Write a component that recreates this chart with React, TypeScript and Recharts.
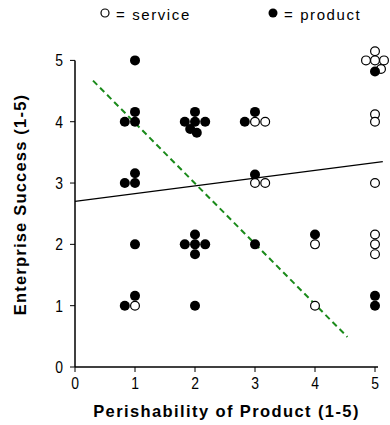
import {
  ScatterChart,
  Scatter,
  XAxis,
  YAxis,
  ReferenceLine,
} from "recharts";

// product (filled) points, jittered around integer ratings
const productPoints = [
  { x: 1, y: 5 },
  { x: 1, y: 4.16 },
  { x: 0.83, y: 4 },
  { x: 1, y: 4 },
  { x: 1, y: 3.16 },
  { x: 0.83, y: 3 },
  { x: 1, y: 3 },
  { x: 1, y: 2 },
  { x: 1, y: 1.16 },
  { x: 0.83, y: 1 },
  { x: 2, y: 4.16 },
  { x: 1.83, y: 4 },
  { x: 2, y: 4 },
  { x: 2.17, y: 4 },
  { x: 1.92, y: 3.88 },
  { x: 2.03, y: 3.82 },
  { x: 2, y: 2.16 },
  { x: 1.83, y: 2 },
  { x: 2, y: 2 },
  { x: 2.17, y: 2 },
  { x: 2, y: 1.84 },
  { x: 2, y: 1 },
  { x: 3, y: 4.16 },
  { x: 2.83, y: 4 },
  { x: 3, y: 3.14 },
  { x: 3, y: 2 },
  { x: 4, y: 2.16 },
  { x: 5, y: 1.16 },
  { x: 5, y: 1 },
];

// service (open) points
const servicePoints = [
  { x: 1, y: 1 },
  { x: 3, y: 4 },
  { x: 3.17, y: 4 },
  { x: 3, y: 3 },
  { x: 3.17, y: 3 },
  { x: 4, y: 2 },
  { x: 4, y: 1 },
  { x: 5, y: 5.15 },
  { x: 4.85, y: 5 },
  { x: 5, y: 5 },
  { x: 5.15, y: 5 },
  { x: 5.1, y: 4.86 },
  { x: 5, y: 4.12 },
  { x: 5, y: 4 },
  { x: 5, y: 3 },
  { x: 5, y: 2.16 },
  { x: 5, y: 2 },
  { x: 5, y: 1.84 },
];

// product drawn over service at the top of the x=5 column
const productTop = [{ x: 5, y: 4.82 }];

const overallFit = [
  { x: 0, y: 2.7 },
  { x: 5.13, y: 3.35 },
];

const productFit = [
  { x: 0.3, y: 4.67 },
  { x: 4.54, y: 0.49 },
];

const xTicks = [0, 1, 2, 3, 4, 5];
const yTicks = [0, 1, 2, 3, 4, 5];

const FONT = "'Liberation Sans', Arial, sans-serif";
const NARROW = 0.82;

const Filled = (props: any) => (
  <circle cx={props.cx} cy={props.cy} r={5} fill="#000" />
);

const Open = (props: any) => (
  <circle cx={props.cx} cy={props.cy} r={4.4} fill="#fff" stroke="#000" strokeWidth={1.2} />
);

const NoDot = () => null;

// narrow-looking tick labels
const XTick = (props: any) => {
  const { x, y, payload } = props;
  return (
    <text transform={`translate(${x},${y + 13}) scale(${NARROW},1)`} textAnchor="middle" fontSize={17} fontFamily={FONT} fill="#000">
      {payload.value}
    </text>
  );
};

const YTick = (props: any) => {
  const { x, y, payload } = props;
  return (
    <text transform={`translate(${x},${y + 6}) scale(${NARROW},1)`} textAnchor="end" fontSize={17} fontFamily={FONT} fill="#000">
      {payload.value}
    </text>
  );
};

const legendText = { fontSize: 15, letterSpacing: 1.6, fontFamily: FONT };

export default function App() {
  return (
    <div style={{ position: "absolute", left: 0, top: 0, width: 390, height: 425, fontFamily: FONT, background: "#fff" }}>
      <svg width={390} height={30} style={{ position: "absolute", left: 0, top: 0 }}>
        <circle cx={105} cy={13} r={4} fill="#fff" stroke="#000" strokeWidth={1.2} />
        <text x={116} y={20} {...legendText}>= service</text>
        <circle cx={273} cy={13} r={4.5} fill="#000" />
        <text x={284} y={20} {...legendText}>= product</text>
      </svg>
      <ScatterChart
        width={390}
        height={425}
        margin={{ top: 42, right: 0, bottom: 0, left: 0 }}
        style={{ position: "absolute", left: 0, top: 0 }}
      >
        <XAxis
          type="number"
          dataKey="x"
          domain={[0, 5.25]}
          ticks={xTicks}
          axisLine={false}
          tickLine={{ stroke: "#000" }}
          tickSize={5}
          tickMargin={4}
          height={58}
          tick={XTick}
          label={{
            value: "Perishability of Product (1-5)",
            position: "insideBottom",
            offset: 8,
            dx: -6,
            style: { fontSize: 16.5, fontWeight: "bold", fill: "#000", fontFamily: FONT, letterSpacing: 1.4 },
          }}
        />
        <YAxis
          type="number"
          dataKey="y"
          domain={[0, 5.3]}
          ticks={yTicks}
          axisLine={false}
          tickLine={{ stroke: "#000" }}
          tickSize={5}
          tickMargin={7}
          width={75}
          tick={YTick}
          label={{
            value: "Enterprise Success (1-5)",
            angle: -90,
            position: "insideLeft",
            offset: 20,
            style: { fontSize: 16.5, fontWeight: "bold", fill: "#000", fontFamily: FONT, letterSpacing: 1.2, textAnchor: "middle" },
          }}
        />
        <ReferenceLine segment={[{ x: 0, y: 0 }, { x: 5.05, y: 0 }]} stroke="#000" strokeWidth={1.5} ifOverflow="visible" />
        <ReferenceLine segment={[{ x: 0, y: 0 }, { x: 0, y: 5 }]} stroke="#000" strokeWidth={1.5} ifOverflow="visible" />
        <Scatter
          data={overallFit}
          line={{ stroke: "#000", strokeWidth: 1.2 }}
          lineType="joint"
          shape={NoDot}
          isAnimationActive={false}
        />
        <Scatter
          data={productFit}
          line={{ stroke: "#1a8a1a", strokeWidth: 2, strokeDasharray: "6 4" }}
          lineType="joint"
          shape={NoDot}
          isAnimationActive={false}
        />
        <Scatter data={productPoints} shape={Filled} isAnimationActive={false} />
        <Scatter data={servicePoints} shape={Open} isAnimationActive={false} />
        <Scatter data={productTop} shape={Filled} isAnimationActive={false} />
      </ScatterChart>
    </div>
  );
}
